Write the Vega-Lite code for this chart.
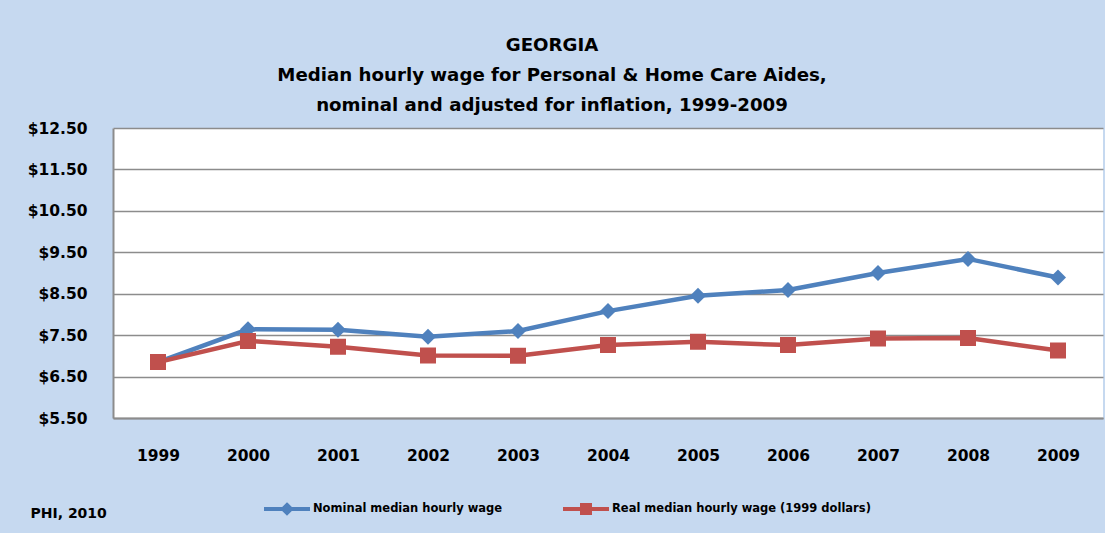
{
  "$schema": "https://vega.github.io/schema/vega-lite/v6.json",
  "width": 990,
  "height": 290,
  "autosize": {"type": "none"},
  "padding": {"left": 113, "top": 128, "right": 2, "bottom": 115},
  "background": "#C6D9F0",
  "title": {
    "text": ["GEORGIA", "Median hourly wage for Personal & Home Care Aides,", "nominal and adjusted for inflation, 1999-2009"],
    "anchor": "middle",
    "frame": "group",
    "dx": -56,
    "offset": 6,
    "font": "DejaVu Sans",
    "fontSize": 18.2,
    "fontWeight": "bold",
    "lineHeight": 30,
    "color": "#000000"
  },
  "data": {
    "values": [
      {"year": "1999", "series": "Nominal median hourly wage", "wage": 6.85},
      {"year": "2000", "series": "Nominal median hourly wage", "wage": 7.64},
      {"year": "2001", "series": "Nominal median hourly wage", "wage": 7.63},
      {"year": "2002", "series": "Nominal median hourly wage", "wage": 7.46},
      {"year": "2003", "series": "Nominal median hourly wage", "wage": 7.60},
      {"year": "2004", "series": "Nominal median hourly wage", "wage": 8.08},
      {"year": "2005", "series": "Nominal median hourly wage", "wage": 8.45},
      {"year": "2006", "series": "Nominal median hourly wage", "wage": 8.59},
      {"year": "2007", "series": "Nominal median hourly wage", "wage": 9.00},
      {"year": "2008", "series": "Nominal median hourly wage", "wage": 9.34},
      {"year": "2009", "series": "Nominal median hourly wage", "wage": 8.89},
      {"year": "1999", "series": "Real median hourly wage (1999 dollars)", "wage": 6.85},
      {"year": "2000", "series": "Real median hourly wage (1999 dollars)", "wage": 7.36},
      {"year": "2001", "series": "Real median hourly wage (1999 dollars)", "wage": 7.22},
      {"year": "2002", "series": "Real median hourly wage (1999 dollars)", "wage": 7.01},
      {"year": "2003", "series": "Real median hourly wage (1999 dollars)", "wage": 7.00},
      {"year": "2004", "series": "Real median hourly wage (1999 dollars)", "wage": 7.26},
      {"year": "2005", "series": "Real median hourly wage (1999 dollars)", "wage": 7.34},
      {"year": "2006", "series": "Real median hourly wage (1999 dollars)", "wage": 7.26},
      {"year": "2007", "series": "Real median hourly wage (1999 dollars)", "wage": 7.42},
      {"year": "2008", "series": "Real median hourly wage (1999 dollars)", "wage": 7.43},
      {"year": "2009", "series": "Real median hourly wage (1999 dollars)", "wage": 7.13}
    ]
  },
  "encoding": {
    "x": {
      "field": "year",
      "type": "ordinal",
      "scale": {"type": "point", "padding": 0.5},
      "axis": {
        "labelAngle": 0,
        "labelFont": "DejaVu Sans",
        "labelFontSize": 15.5,
        "labelFontWeight": "bold",
        "labelColor": "#000000",
        "labelPadding": 30,
        "ticks": false,
        "domainColor": "#8C8C8C",
        "domainWidth": 2,
        "grid": false,
        "title": "PHI, 2010",
        "titleFont": "DejaVu Sans",
        "titleFontSize": 14,
        "titleFontWeight": "bold",
        "titleColor": "#000000",
        "titleAnchor": "start",
        "titleAlign": "left",
        "titleBaseline": "middle",
        "titleX": -83,
        "titleY": 95
      }
    },
    "y": {
      "field": "wage",
      "type": "quantitative",
      "scale": {"domain": [5.5, 12.5], "nice": false, "zero": false},
      "axis": {
        "values": [5.5, 6.5, 7.5, 8.5, 9.5, 10.5, 11.5, 12.5],
        "format": "$.2f",
        "labelFont": "DejaVu Sans",
        "labelFontSize": 15.5,
        "labelFontWeight": "bold",
        "labelColor": "#000000",
        "labelPadding": 26,
        "ticks": false,
        "domainColor": "#8C8C8C",
        "domainWidth": 2,
        "gridColor": "#8C8C8C",
        "gridWidth": 1.5,
        "gridOpacity": 1,
        "title": null
      }
    },
    "color": {
      "field": "series",
      "type": "nominal",
      "scale": {
        "domain": ["Nominal median hourly wage", "Real median hourly wage (1999 dollars)"],
        "range": ["#4F81BD", "#C0504D"]
      },
      "legend": {
        "title": null,
        "orient": "none",
        "direction": "horizontal",
        "legendX": 168,
        "legendY": 375,
        "symbolSize": 64,
        "labelOffset": 20,
        "columnPadding": 52,
        "labelFont": "DejaVu Sans",
        "labelFontSize": 11.5,
        "labelFontWeight": "bold",
        "labelColor": "#000000",
        "labelLimit": 400,
        "encode": {
          "symbols": {
            "update": {
              "fill": {"scale": "color", "field": "value"},
              "stroke": {"scale": "color", "field": "value"},
              "strokeWidth": {"value": 4},
              "opacity": {"value": 1}
            }
          }
        }
      }
    }
  },
  "layer": [
    {
      "mark": {"type": "line", "strokeWidth": 4.5}
    },
    {
      "mark": {"type": "point", "filled": true, "opacity": 1, "size": 256},
      "encoding": {
        "shape": {
          "field": "series",
          "type": "nominal",
          "scale": {
            "domain": ["Nominal median hourly wage", "Real median hourly wage (1999 dollars)"],
            "range": ["M-5.75,0H5.75M0,-1L1,0L0,1L-1,0Z", "M-5.75,0H5.75M-1,-1H1V1H-1Z"]
          },
          "legend": {
            "title": null,
            "orient": "none",
            "direction": "horizontal",
            "legendX": 168,
            "legendY": 375,
            "symbolSize": 64,
            "labelOffset": 20,
            "columnPadding": 52,
            "labelFont": "DejaVu Sans",
            "labelFontSize": 11.5,
            "labelFontWeight": "bold",
            "labelColor": "#000000",
            "labelLimit": 400,
            "encode": {
              "symbols": {
                "update": {
                  "fill": {"scale": "color", "field": "value"},
                  "stroke": {"scale": "color", "field": "value"},
                  "strokeWidth": {"value": 4},
                  "opacity": {"value": 1}
                }
              }
            }
          }
        }
      }
    }
  ],
  "config": {
    "view": {"fill": "#FFFFFF", "stroke": null},
    "font": "DejaVu Sans"
  }
}
